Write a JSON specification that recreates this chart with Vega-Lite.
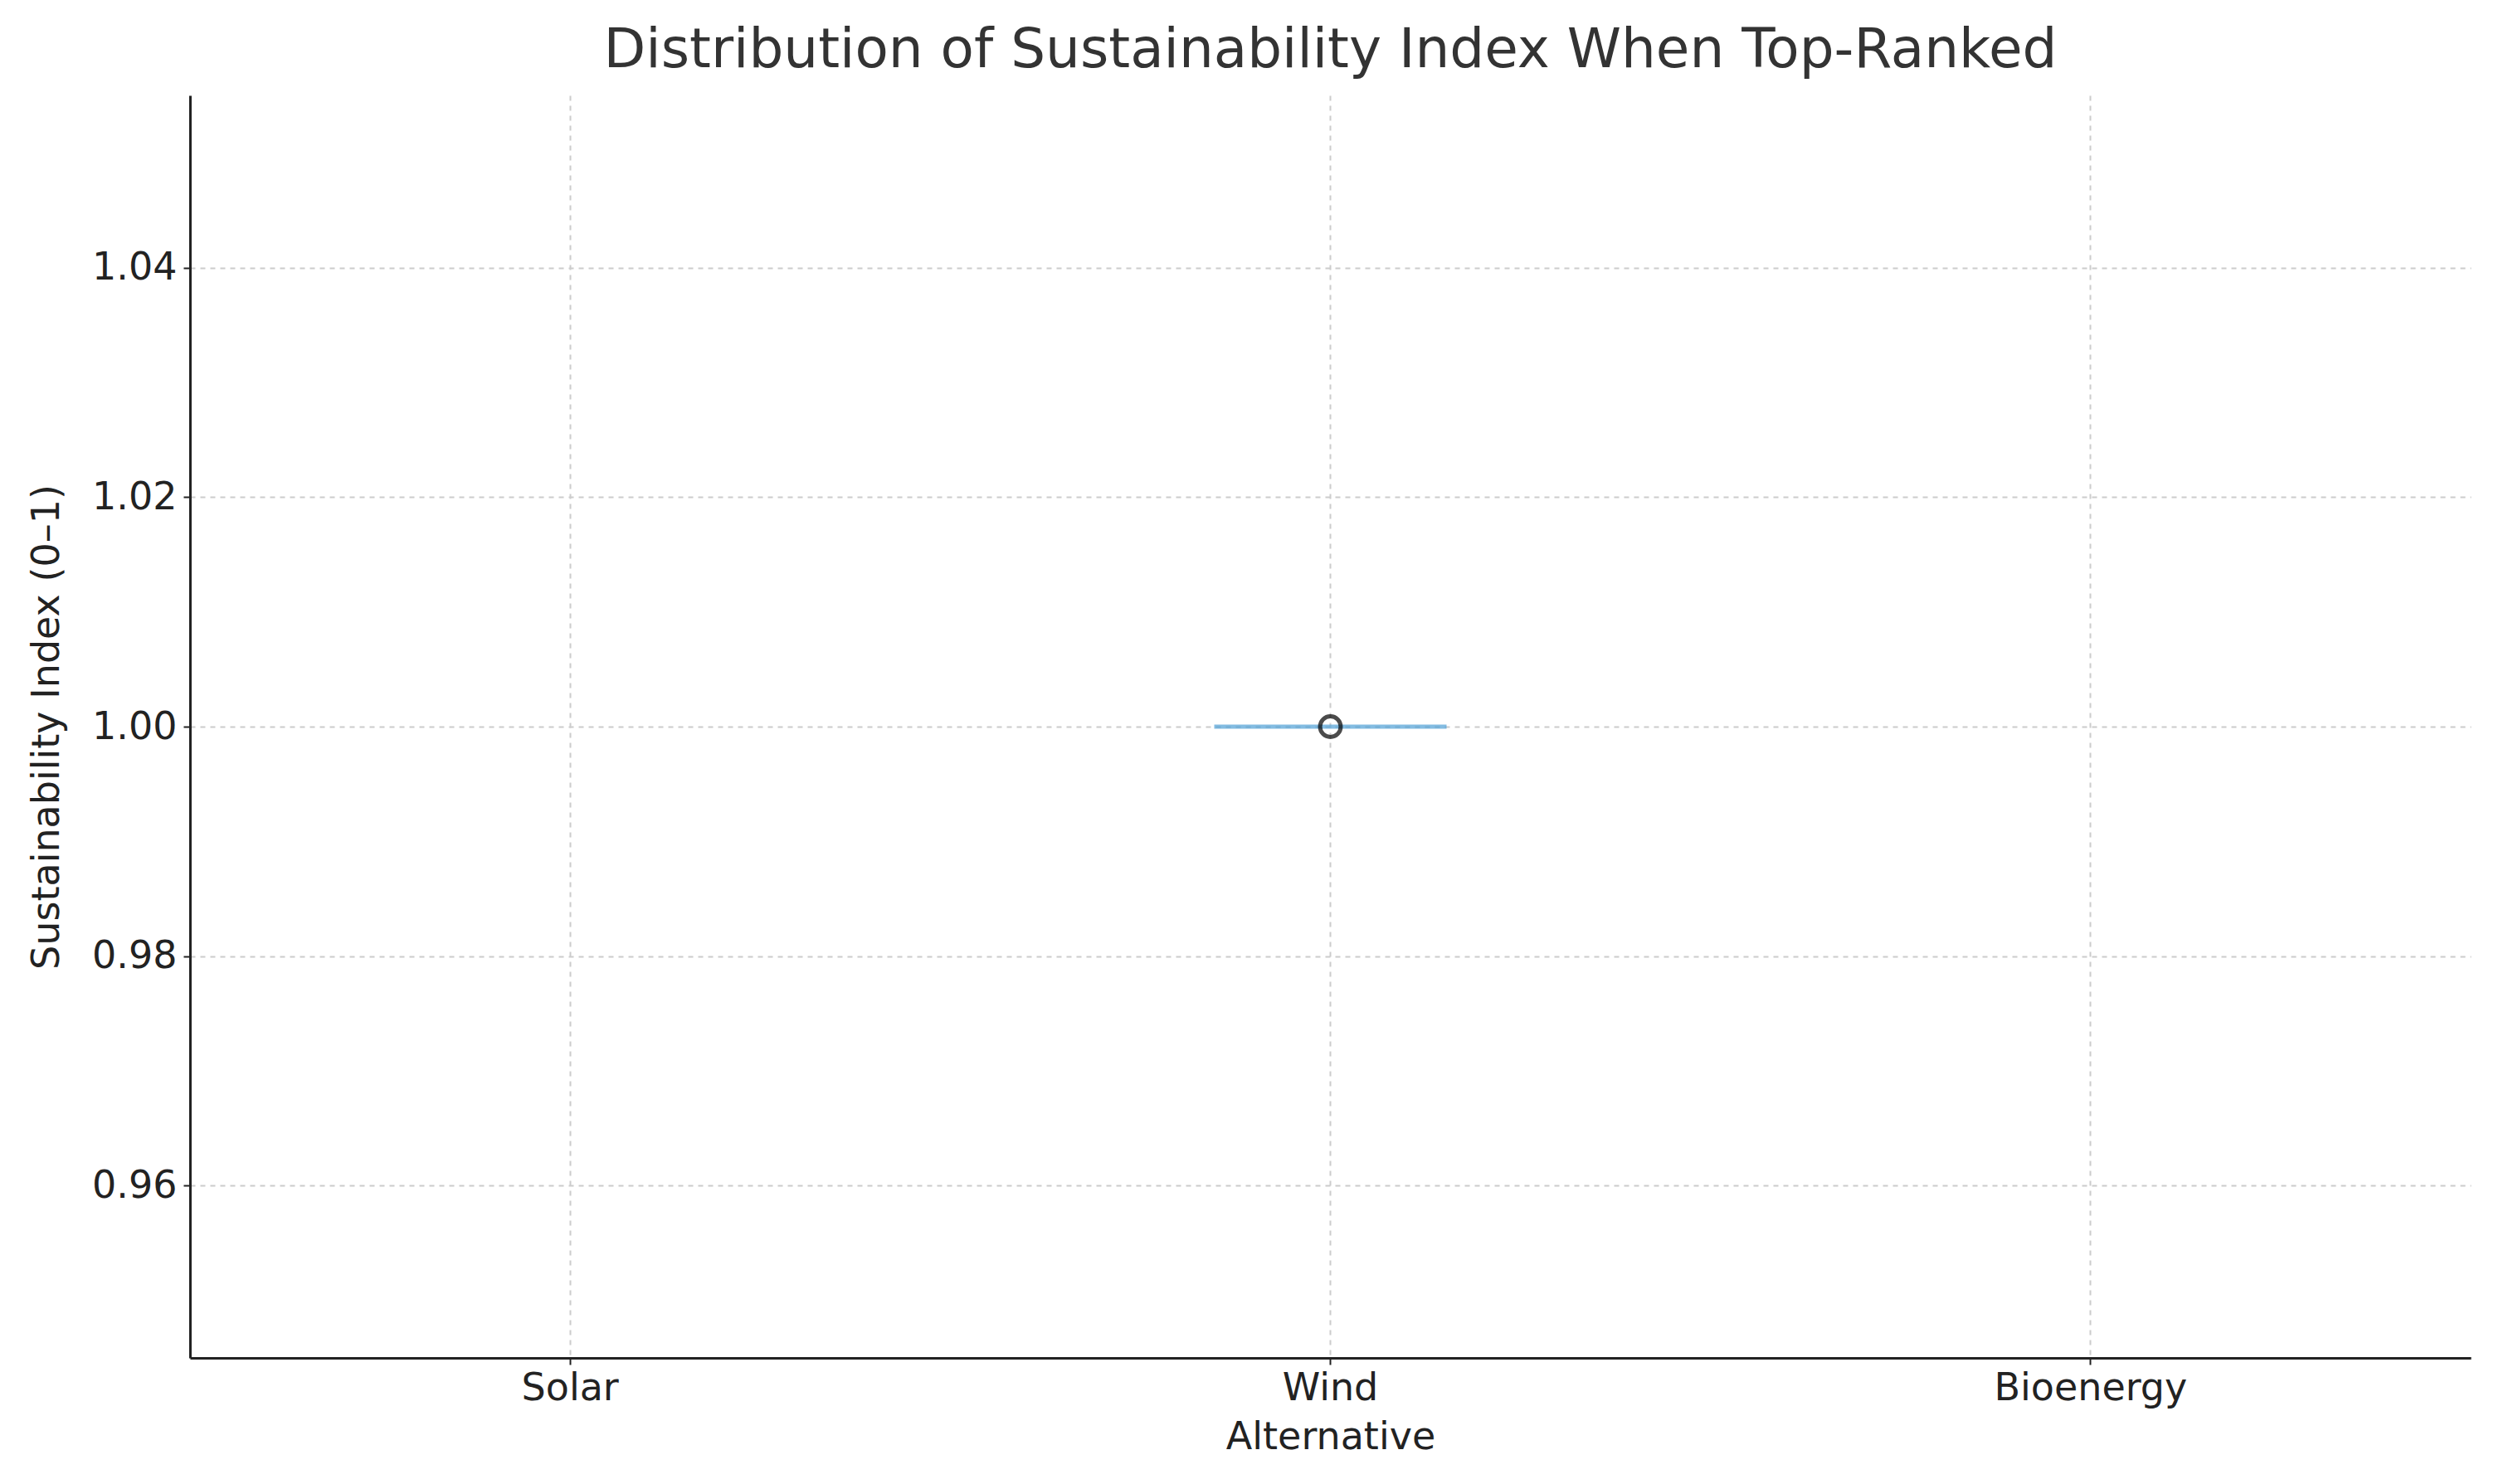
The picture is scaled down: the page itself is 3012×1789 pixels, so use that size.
{
  "$schema": "https://vega.github.io/schema/vega-lite/v6.json",
  "autosize": {"type": "none"},
  "width": 2749,
  "height": 1522,
  "padding": {"left": 229, "top": 115, "right": 34, "bottom": 152},
  "background": "white",
  "title": {"text": "Distribution of Sustainability Index When Top-Ranked", "fontSize": 66, "font": "DejaVu Sans", "fontWeight": "normal", "color": "#333333", "offset": 20},
  "config": {"view": {"stroke": null}},
  "data": {"values": [{"alternative": "Wind", "index": 1.0}]},
  "encoding": {
    "x": {"field": "alternative", "type": "nominal", "scale": {"domain": ["Solar", "Wind", "Bioenergy"], "paddingInner": 0, "paddingOuter": 0}, "sort": null,
      "axis": {"title": "Alternative", "labelAngle": 0, "labelLimit": 1000, "labelFontSize": 46, "titleFontSize": 46, "labelFont": "DejaVu Sans", "titleFont": "DejaVu Sans", "titleFontWeight": "normal", "labelColor": "#222", "titleColor": "#222", "domainColor": "#222", "domainWidth": 3, "tickColor": "#222", "tickSize": 8, "tickWidth": 2, "labelPadding": 6, "titlePadding": 14, "grid": true, "gridDash": [6, 6], "gridColor": "#cccccc", "gridWidth": 2, "bandPosition": 0.5}},
    "y": {"field": "index", "type": "quantitative", "scale": {"domain": [0.945, 1.055], "nice": false, "zero": false},
      "axis": {"title": "Sustainability Index (0–1)", "values": [0.96, 0.98, 1.0, 1.02, 1.04], "format": ".2f", "labelFontSize": 46, "titleFontSize": 46, "labelFont": "DejaVu Sans", "titleFont": "DejaVu Sans", "titleFontWeight": "normal", "labelColor": "#222", "titleColor": "#222", "domainColor": "#222", "domainWidth": 3, "tickColor": "#222", "tickSize": 8, "tickWidth": 2, "labelPadding": 8, "titlePadding": 30, "grid": true, "gridDash": [6, 6], "gridColor": "#cccccc", "gridWidth": 2}}
  },
  "layer": [
    {"mark": {"type": "tick", "orient": "horizontal", "size": 280, "thickness": 5, "color": "#4e9fd6"}},
    {"mark": {"type": "point", "shape": "circle", "filled": false, "size": 620, "stroke": "#000000", "strokeWidth": 5}}
  ]
}
